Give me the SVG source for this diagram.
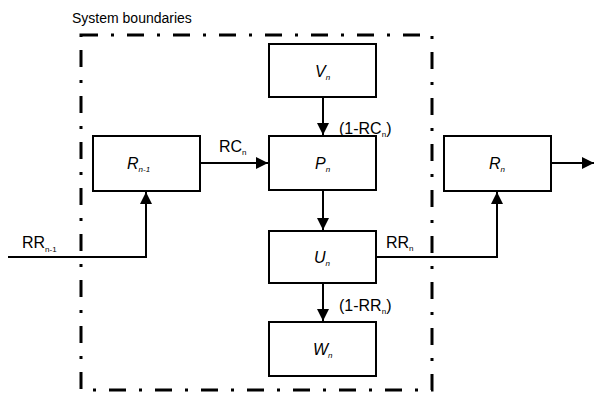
<svg xmlns="http://www.w3.org/2000/svg" width="594" height="396" viewBox="0 0 594 396">
<style>
.box{fill:#fff;stroke:#000;stroke-width:2}
.ln{fill:none;stroke:#000;stroke-width:2}
.bd{fill:none;stroke:#000;stroke-width:3;stroke-dasharray:17 13 3 13}
text{font-family:"Liberation Sans",Arial,sans-serif;fill:#000}
.lbl{font-size:16px}
.nm{font-size:16px;font-style:italic}
.sub{font-size:8px}
</style>
<defs>
<marker id="ah" viewBox="0 0 12 12" refX="12" refY="6" markerWidth="12" markerHeight="12" markerUnits="userSpaceOnUse" orient="auto">
<path d="M0,0 L12,6 L0,12 Z" fill="#000"/>
</marker>
</defs>
<text x="72" y="23" font-size="14" font-family="Liberation Sans, Arial, sans-serif">System boundaries</text>
<rect x="81" y="35" width="351" height="355" class="bd"/>
<g id="connectors">
<line x1="323" y1="97" x2="323" y2="135" class="ln" marker-end="url(#ah)"/>
<line x1="200" y1="163" x2="268" y2="163" class="ln" marker-end="url(#ah)"/>
<line x1="323" y1="190" x2="323" y2="230" class="ln" marker-end="url(#ah)"/>
<line x1="323" y1="283" x2="323" y2="321" class="ln" marker-end="url(#ah)"/>
<polyline points="8,257 146,257 146,192" class="ln" marker-end="url(#ah)"/>
<polyline points="376,257 497,257 497,192" class="ln" marker-end="url(#ah)"/>
<line x1="551" y1="163" x2="594" y2="163" class="ln" marker-end="url(#ah)"/>
<text x="219" y="152" class="lbl">RC<tspan class="sub" dy="3">n</tspan></text>
<text x="339" y="134" class="lbl">(1-RC<tspan class="sub" dy="3">n</tspan><tspan dy="-3">)</tspan></text>
<text x="386" y="248" class="lbl">RR<tspan class="sub" dy="3">n</tspan></text>
<text x="339" y="311" class="lbl">(1-RR<tspan class="sub" dy="3">n</tspan><tspan dy="-3">)</tspan></text>
<text x="22" y="248" class="lbl">RR<tspan class="sub" dy="4">n-1</tspan></text>
</g>
<g id="Vn"><rect x="269" y="44" width="107" height="53" class="box"/><text x="315" y="77" class="nm">V<tspan class="sub" dy="3">n</tspan></text></g>
<g id="Pn"><rect x="269" y="136" width="107" height="54" class="box"/><text x="315" y="169" class="nm">P<tspan class="sub" dy="3">n</tspan></text></g>
<g id="Rn-1"><rect x="93" y="136" width="107" height="55" class="box"/><text x="127" y="169" class="nm">R<tspan class="sub" dy="3">n-1</tspan></text></g>
<g id="Un"><rect x="269" y="231" width="107" height="52" class="box"/><text x="314" y="263" class="nm">U<tspan class="sub" dy="3">n</tspan></text></g>
<g id="Wn"><rect x="269" y="322" width="107" height="54" class="box"/><text x="313" y="355" class="nm">W<tspan class="sub" dy="3">n</tspan></text></g>
<g id="Rn"><rect x="444" y="136" width="107" height="55" class="box"/><text x="489" y="169" class="nm">R<tspan class="sub" dy="3">n</tspan></text></g>
</svg>
